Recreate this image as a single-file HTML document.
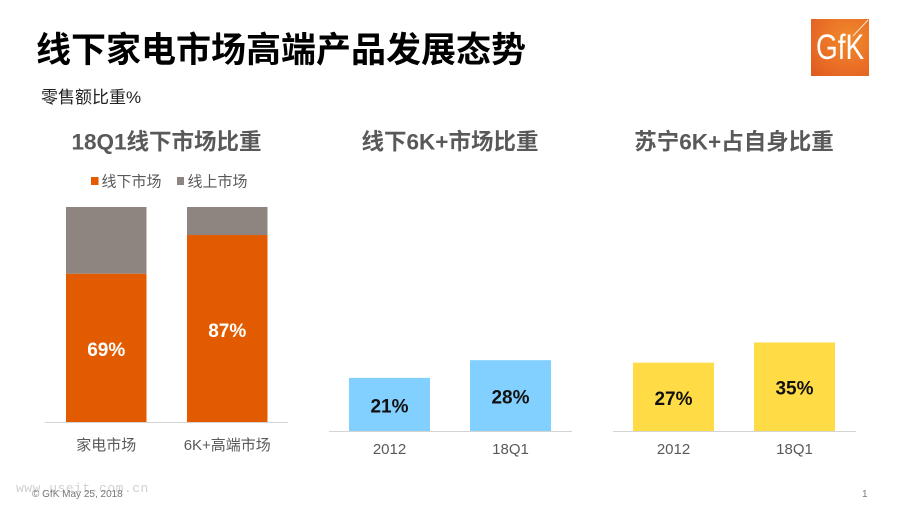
<!DOCTYPE html>
<html lang="zh">
<head>
<meta charset="utf-8">
<title>线下家电市场高端产品发展态势</title>
<style>
html,body{margin:0;padding:0;background:#fff;}
#slide{position:relative;width:900px;height:506px;overflow:hidden;background:#fff;font-family:"Liberation Sans","Noto Sans CJK SC",sans-serif;}
#slide>div{position:absolute;white-space:nowrap;}
svg{position:absolute;left:0;top:0;}
svg text{font-family:"Liberation Sans","Noto Sans CJK SC",sans-serif;}
</style>
</head>
<body>
<div id="slide">
  <div style="left:36px;top:29px;font-size:35px;line-height:44px;font-weight:700;color:#000;">线下家电市场高端产品发展态势</div>
  <div style="left:41px;top:88px;font-size:17px;line-height:20px;color:#222;">零售额比重%</div>
  <div style="left:811px;top:19px;width:58px;height:57px;background:radial-gradient(circle at 65% 35%,#f08a2c 0%,#ea6f26 55%,#dd5a20 100%);overflow:hidden;">
    <div style="position:absolute;left:5px;top:11px;font-size:35px;line-height:36px;color:#fff;transform:scaleX(.8);transform-origin:left top;">GfK</div>
    <svg width="58" height="57"><line x1="57" y1="1" x2="42" y2="17" stroke="#fff" stroke-width="1" opacity=".8"/></svg>
  </div>
  <div style="left:16px;top:481px;font-size:13px;line-height:16px;color:#d0d0d0;letter-spacing:.5px;font-family:'Liberation Mono',monospace;">www.useit.com.cn</div>
  <div style="left:32px;top:489px;font-size:10px;line-height:12px;color:#777;">© GfK May 25, 2018</div>
  <div style="left:862px;top:489px;font-size:10px;line-height:12px;color:#777;">1</div>
  <svg id="charts" width="900" height="506"></svg>
</div>
<script>
var shareCategories = ['家电市场', '6K+高端市场'];
var offlineShare = [69, 87];
var onlineShare = [31, 13];
var shareLegend = ['线下市场', '线上市场'];
var marketYears = ['2012', '18Q1'];
var marketValues = [21, 28];
var suningYears = ['2012', '18Q1'];
var suningValues = [27, 35];

var svg = document.getElementById('charts');
var NS = 'http://www.w3.org/2000/svg';

function rect(x, y, w, h, fill, name) {
  var el = document.createElementNS(NS, 'rect');
  el.setAttribute('x', x);
  el.setAttribute('y', y);
  el.setAttribute('width', w);
  el.setAttribute('height', h);
  el.setAttribute('fill', fill);
  
  
  svg.appendChild(el);
}

function text(x, y, str, size, fill, weight, anchor, name) {
  var el = document.createElementNS(NS, 'text');
  el.setAttribute('x', x);
  el.setAttribute('y', y);
  el.setAttribute('font-size', size);
  el.setAttribute('fill', fill);
  el.setAttribute('font-weight', weight);
  el.setAttribute('text-anchor', anchor);
  el.textContent = str;
  
  
  svg.appendChild(el);
}

function axisLine(x0, x1, y, name) {
  rect(x0, y, x1 - x0, 1, '#d4d4d4', name);
}

/* Stacked chart */
var stackBase = 422.5;
var stackScale = 2.155;
function stackY(v) { return stackBase - v * stackScale; }
var stackX = [66, 187];
var stackBarW = 80.5;

text(166.5, 149.5, '18Q1线下市场比重', 22.5, '#595959', 700, 'middle', 'share-chart-title');
rect(91, 177, 7.5, 8, '#e35b00', 'legend-swatch-offline');
text(101.5, 186.5, shareLegend[0], 15, '#595959', 400, 'start', 'legend-label-offline');
rect(177, 177, 7, 8, '#8e8580', 'legend-swatch-online');
text(187.5, 186.5, shareLegend[1], 15, '#595959', 400, 'start', 'legend-label-online');

shareCategories.forEach(function (cat, i) {
  var offTop = stackY(offlineShare[i]);
  var onTop = stackY(offlineShare[i] + onlineShare[i]);
  rect(stackX[i], onTop, stackBarW, offTop - onTop, '#8e8580', 'bar-online-' + i);
  rect(stackX[i], offTop, stackBarW, stackBase - offTop, '#e35b00', 'bar-offline-' + i);
  text(stackX[i] + stackBarW / 2, (offTop + stackBase) / 2 + 8, offlineShare[i] + '%', 19, '#fff', 700, 'middle', 'value-label-offline-' + i);
  text(stackX[i] + stackBarW / 2, 450, cat, 15, '#595959', 400, 'middle', 'category-label-' + i);
});
axisLine(45, 288, 422, 'share-x-axis');

/* Single series charts */
var colBase = 431;
var colScale = 2.53;
function colY(v) { return colBase - v * colScale; }

function columnChart(title, titleX, cats, vals, xs, color, axis, key) {
  text(titleX, 149.5, title, 22.5, '#595959', 700, 'middle', key + '-chart-title');
  cats.forEach(function (cat, i) {
    var top = colY(vals[i]);
    rect(xs[i], top, 81, colBase - top, color, key + '-bar-' + i);
    text(xs[i] + 40.5, (top + colBase) / 2 + 8, vals[i] + '%', 19, '#111', 700, 'middle', key + '-value-label-' + i);
    text(xs[i] + 40.5, 454, cat, 15, '#595959', 400, 'middle', key + '-category-label-' + i);
  });
  axisLine(axis[0], axis[1], 431, key + '-x-axis');
}

columnChart('线下6K+市场比重', 450, marketYears, marketValues, [349, 470], '#82d0ff', [329, 572], 'market');
columnChart('苏宁6K+占自身比重', 734, suningYears, suningValues, [633, 754], '#ffdc46', [613, 856], 'suning');
</script>
</body>
</html>
